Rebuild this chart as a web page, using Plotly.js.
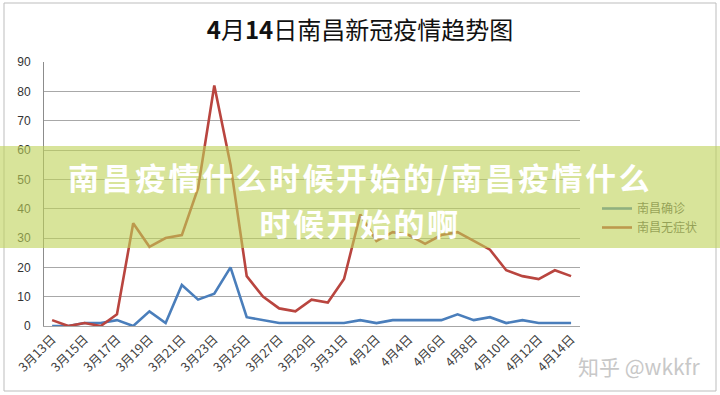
<!DOCTYPE html>
<html>
<head>
<meta charset="utf-8">
<script src="https://cdn.plot.ly/plotly-3.0.1.min.js"></script>
<style>
  html, body { margin: 0; padding: 0; background: #fff; }
  #wrap { position: relative; width: 720px; height: 395px; overflow: hidden; }
  #chart { width: 720px; height: 395px; }
  #banner {
    position: absolute; left: 0; top: 146px; width: 720px; height: 102px;
    background: rgba(190, 210, 87, 0.6);
    pointer-events: none;
  }
  .bline {
    position: absolute; left: 0; width: 720px; text-align: center; color: #fff;
    font-family: "Noto Sans CJK SC", sans-serif; font-weight: bold;
    font-size: 31px; letter-spacing: 2.5px; line-height: 45px; height: 45px; white-space: nowrap;
  }
</style>
</head>
<body>
<div id="wrap">
  <div id="chart"></div>
  <div id="banner">
    <div class="bline" style="top:8px">南昌疫情什么时候开始的/南昌疫情什么</div>
    <div class="bline" style="top:54px">时候开始的啊</div>
  </div>
</div>
<script>
// ---- data ----
const dates = ['3月13日','3月14日','3月15日','3月16日','3月17日','3月18日','3月19日','3月20日',
  '3月21日','3月22日','3月23日','3月24日','3月25日','3月26日','3月27日','3月28日','3月29日',
  '3月30日','3月31日','4月1日','4月2日','4月3日','4月4日','4月5日','4月6日','4月7日','4月8日',
  '4月9日','4月10日','4月11日','4月12日','4月13日','4月14日'];
const confirmed = [0,0,1,1,2,0,5,1,14,9,11,20,3,2,1,1,1,1,1,2,1,2,2,2,2,4,2,3,1,2,1,1,1];
const asymptomatic = [2,0,1,0,4,35,27,30,31,47,82,55,17,10,6,5,9,8,16,38,29,32,31,28,31,32,29,26,19,17,16,19,17];
const seriesNames = ['南昌确诊','南昌无症状'];
const yTicks = [0,10,20,30,40,50,60,70,80,90];
const titleText = '<b>4</b>月<b>14</b>日南昌新冠疫情趋势图';
const watermark = '知乎 @wkkfr';

// ---- layout helpers (pixel -> paper) ----
const L = 44, R = 580, T = 62, B = 326;
const W = R - L, H = B - T;
const px = x => (x - L) / W;
const py = y => (B - y) / H;

const traces = [
  { x: dates, y: confirmed, name: seriesNames[0], type: 'scatter', mode: 'lines',
    line: { color: '#4a7ebb', width: 2.6 }, legendgroup: 'a' },
  { x: dates, y: asymptomatic, name: seriesNames[1], type: 'scatter', mode: 'lines',
    line: { color: '#b9453f', width: 2.6 }, legendgroup: 'b' }
];

const layout = {
  width: 720, height: 395,
  margin: { l: L, r: 720 - R, t: T, b: 395 - B },
  paper_bgcolor: '#ffffff', plot_bgcolor: '#ffffff',
  showlegend: true,
  title: { text: titleText, x: 0.5, xref: 'container', xanchor: 'center',
    y: 1 - 31 / 395, yref: 'container', yanchor: 'middle',
    font: { family: 'Noto Sans CJK SC, sans-serif', size: 24, color: '#111' } },
  xaxis: {
    type: 'category', range: [-0.5, 32.55], tickangle: -45, dtick: 2, tick0: 0,
    showgrid: false, showline: true, linecolor: '#a6a6a6', linewidth: 1,
    ticks: '', tickfont: { family: 'Noto Sans CJK SC, sans-serif', size: 12.5, color: '#404040' },
    zeroline: false
  },
  yaxis: {
    range: [0, 90], tickvals: yTicks, ticktext: yTicks.map(String),
    showgrid: true, gridcolor: '#a8a8a8', gridwidth: 1,
    showline: true, linecolor: '#8c8c8c', linewidth: 1, zeroline: false,
    ticks: '', ticklabelstandoff: 10,
    tickfont: { family: 'Liberation Sans, sans-serif', size: 12, color: '#333' }
  },
  legend: {
    x: px(597), xanchor: 'left', y: py(194), yanchor: 'top',
    font: { family: 'Noto Sans CJK SC, sans-serif', size: 12, color: '#595959' },
    bgcolor: 'rgba(0,0,0,0)', tracegroupgap: 8, traceorder: 'normal'
  },
  shapes: [
    { type: 'rect', xref: 'paper', yref: 'paper', layer: 'below',
      x0: px(4), x1: px(716), y0: py(391), y1: py(3),
      line: { color: '#bdbdbd', width: 1 }, fillcolor: 'rgba(0,0,0,0)' }
  ],
  annotations: [
    { text: watermark, xref: 'paper', yref: 'paper', x: px(702), y: py(366),
      xanchor: 'right', yanchor: 'middle', showarrow: false,
      font: { family: 'Noto Sans CJK SC, sans-serif', size: 21, color: '#c8c8c8' } }
  ]
};

Plotly.newPlot('chart', traces, layout, { displayModeBar: false, staticPlot: true });
</script>
</body>
</html>
